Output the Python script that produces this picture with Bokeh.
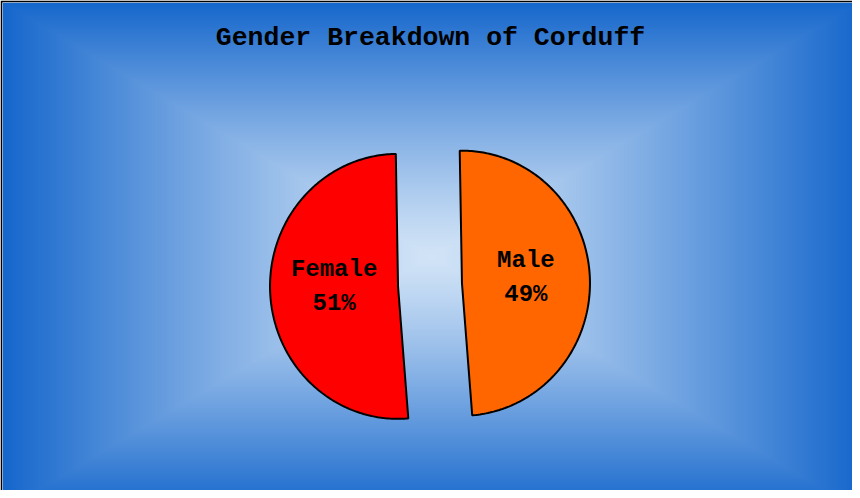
import numpy as np
from bokeh.plotting import figure
from bokeh.models import Range1d, ColumnDataSource
from bokeh.core.properties import value
from bokeh.embed import file_html
from bokeh.resources import INLINE

# ---- data ----
title_text = "Gender Breakdown of Corduff"
categories = ["Male", "Female"]
percentages = [49, 51]
slice_colors = ["#FF6600", "#FF0000"]

# ---- layout / style ----
W, H = 852, 490
FW, FH = W - 2, H - 2          # frame size (2px black border left/top)
cx, cy = 427.5, 205.7          # pie centre in frame pixels (y up)
rx, ry = 128.0, 132.5
explode = 32.0
start_deg = 91.0
label_font = value("'Courier New', 'Nimbus Mono PS', Courier, 'Liberation Mono', monospace")

p = figure(width=W, height=H, output_backend="svg", toolbar_location=None,
           x_axis_type=None, y_axis_type=None,
           x_range=Range1d(0, FW), y_range=Range1d(0, FH),
           min_border_left=2, min_border_top=2, min_border_right=0, min_border_bottom=0,
           border_fill_color="black", outline_line_color=None)
p.grid.visible = False

# ---- background: rectangular gradient ----
edge = np.array([20, 102, 204], dtype=float)
centre = np.array([210, 228, 247], dtype=float)
gx, gy = FW / 2 + 4, FH / 2 - 10
xs = np.arange(FW) + 0.5
ys = np.arange(FH) + 0.5
X, Y = np.meshgrid(xs, ys)
t = np.maximum(np.abs(X - gx) / (FW / 2 + 6), np.abs(Y - gy) / (FH / 2 + 12))
t = np.clip(t, 0, 1) ** 1.2
rgb = centre[None, None, :] + (edge - centre)[None, None, :] * t[..., None]
img = np.zeros((FH, FW), dtype=np.uint32)
view = img.view(dtype=np.uint8).reshape((FH, FW, 4))
view[..., 0] = rgb[..., 0].astype(np.uint8)
view[..., 1] = rgb[..., 1].astype(np.uint8)
view[..., 2] = rgb[..., 2].astype(np.uint8)
view[..., 3] = 255
p.image_rgba(image=[img], x=0, y=0, dw=FW, dh=FH)

# ---- pie slices (exploded) ----
total = float(sum(percentages))
xs_list, ys_list, lx, ly, names, pcts = [], [], [], [], [], []
a0 = start_deg
for cat, val in zip(categories, percentages):
    span = 360.0 * val / total
    a1 = a0 - span
    mid = np.radians((a0 + a1) / 2)
    ax = cx + explode * np.cos(mid)
    ay = cy + explode * np.sin(mid)
    th = np.radians(np.linspace(a0, a1, 200))
    xs_list.append([ax] + list(ax + rx * np.cos(th)) + [ax])
    ys_list.append([ay] + list(ay + ry * np.sin(th)) + [ay])
    lx.append(ax + 0.5 * rx * np.cos(mid))
    ly.append(ay + 0.5 * ry * np.sin(mid) + 3)
    names.append(cat)
    pcts.append(f"{val}%")
    a0 = a1

src = ColumnDataSource(dict(xs=xs_list, ys=ys_list, color=slice_colors,
                            lx=lx, ly=ly, name=names, pct=pcts))
p.patches("xs", "ys", source=src, fill_color="color", line_color="black", line_width=2)

p.text("lx", "ly", text="name", source=src, y_offset=-17,
       text_font=label_font, text_font_style="bold", text_font_size="24px",
       text_align="center", text_baseline="middle", text_color="black")
p.text("lx", "ly", text="pct", source=src, y_offset=17,
       text_font=label_font, text_font_style="bold", text_font_size="24px",
       text_align="center", text_baseline="middle", text_color="black")

# ---- title ----
p.text(x=[FW / 2 + 3], y=[FH - 35.5], text=[title_text],
       text_font=label_font, text_font_style="bold", text_font_size="26.5px",
       text_align="center", text_baseline="middle", text_color="black")

open("out.html", "w").write(file_html(p, INLINE))
